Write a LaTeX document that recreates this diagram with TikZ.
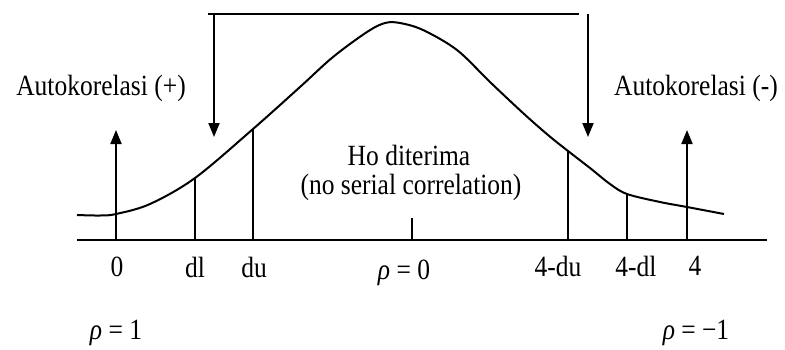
\documentclass[tikz,border=0pt]{standalone}
\usepackage{fontspec}
\setmainfont{Liberation Serif}
\usetikzlibrary{arrows.meta}
\newcommand{\stretchtxt}[1]{\scalebox{1}[1.15]{#1}}
\begin{document}
\begin{tikzpicture}[x=1pt,y=-1pt,
  ln/.style={line width=2pt},
  arr/.style={line width=2pt,-{Triangle[width=11pt,length=14pt]}},
  lbl/.style={font=\fontsize{25.5}{28}\selectfont, inner sep=0pt}]
\useasboundingbox (0,0) rectangle (785,349);
% axis coordinates
\coordinate (a0) at (116,240);
\coordinate (adl) at (195,240);
\coordinate (adu) at (253,240);
\coordinate (amid) at (412,240);
\coordinate (a4du) at (568,240);
\coordinate (a4dl) at (627,240);
\coordinate (a4) at (687,240);
\coordinate (cdl) at (195,178);
\coordinate (cdu) at (253,129);
\coordinate (c4du) at (568,151);
\coordinate (c4dl) at (627,194);
\coordinate (t0) at (116,130);
\coordinate (t4) at (687,130);
\coordinate (tmid) at (412,218);
\coordinate (ll) at (208,14);
\coordinate (lr) at (579,14);
\coordinate (al) at (214,14);
\coordinate (alend) at (214,137);
\coordinate (ar) at (588,14);
\coordinate (arend) at (588,137);
\coordinate (axL) at (77,240);
\coordinate (axR) at (767,240);
% top line and arrows
\draw[line width=2.6pt] (ll) -- (lr);
\draw[arr] (al) -- (alend);
\draw[arr] (ar) -- (arend);
% axis
\draw[ln] (axL) -- (axR);
% curve
\draw[ln] plot[smooth, tension=0.55] coordinates {(77,215) (100,215.5) (116,214) (150,204) (195,178) (253,129) (300,87) (333,57) (367,32) (385,23) (400,23) (423,30) (457,50) (490,82) (523,113) (548,135) (568,151) (590,168) (610,184) (627,194) (660,202) (687,207) (724,214)};
% verticals
\draw[arr] (a0) -- (t0);
\draw[arr] (a4) -- (t4);
\draw[ln] (adl) -- (cdl);
\draw[ln] (adu) -- (cdu);
\draw[ln] (a4du) -- (c4du);
\draw[ln] (a4dl) -- (c4dl);
\draw[ln] (amid) -- (tmid);
% labels
\node[lbl] (lp) at (101,88) {\stretchtxt{Autokorelasi (+)}};
\node[lbl] (lm) at (696,88) {\stretchtxt{Autokorelasi (-)}};
\node[lbl] (ho) at (409,155) {\stretchtxt{Ho diterima}};
\node[lbl] (nsc) at (411,187) {\stretchtxt{(no serial correlation)}};
\node[lbl] (x0) at (117,267) {\stretchtxt{0}};
\node[lbl] (xdl) at (195,267) {\stretchtxt{dl}};
\node[lbl] (xdu) at (254,267) {\stretchtxt{du}};
\node[lbl] (xr0) at (404,273) {\stretchtxt{{\itshape ρ} = 0}};
\node[lbl] (x4du) at (558,266) {\stretchtxt{4-du}};
\node[lbl] (x4dl) at (636,266) {\stretchtxt{4-dl}};
\node[lbl] (x4) at (695,266) {\stretchtxt{4}};
\node[lbl] (r1) at (116,333) {\stretchtxt{{\itshape ρ} = 1}};
\node[lbl] (rm1) at (696,333) {\stretchtxt{{\itshape ρ} = −1}};
\end{tikzpicture}
\end{document}
